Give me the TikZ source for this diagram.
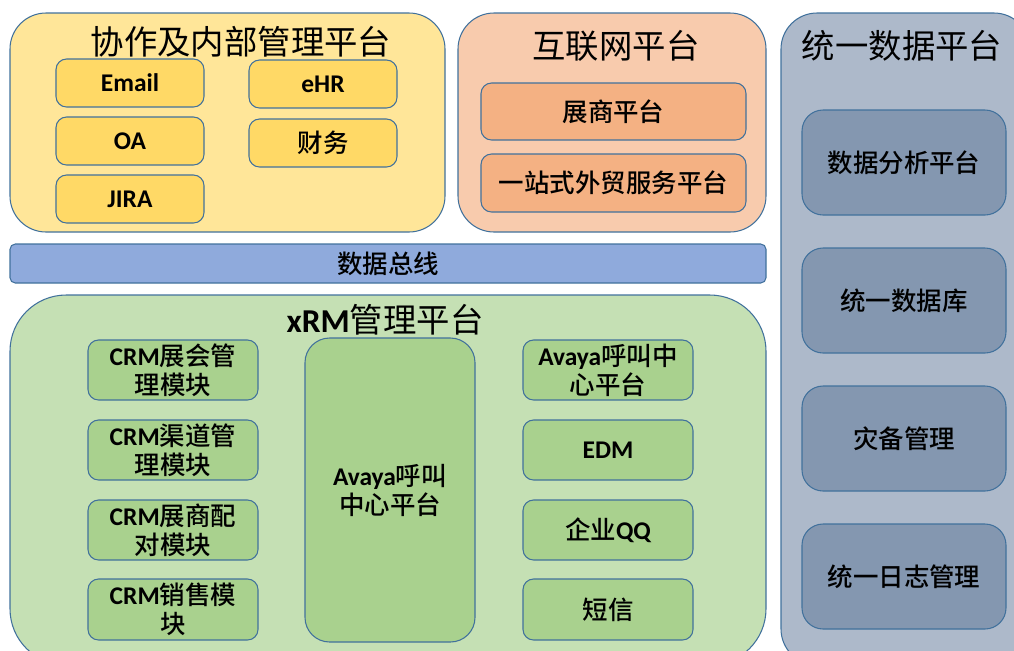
\documentclass[tikz,border=0pt]{standalone}
\usepackage{fontspec}
\setmainfont{Noto Sans CJK SC}[BoldFont={Noto Sans CJK SC Medium}]
\newfontfamily\lat{Carlito}
\definecolor{edge}{HTML}{41719C}
\definecolor{ylwout}{HTML}{FFE699}\definecolor{ylwin}{HTML}{FFD966}
\definecolor{orgout}{HTML}{F8CBAD}\definecolor{orgin}{HTML}{F4B183}
\definecolor{bluout}{HTML}{ADB9CA}\definecolor{bluin}{HTML}{8497B0}
\definecolor{grnout}{HTML}{C5E0B4}\definecolor{grnin}{HTML}{A9D18E}
\definecolor{bus}{HTML}{8FAADC}
\begin{document}
\begin{tikzpicture}[x=.02cm,y=-.02cm,line width=.6pt,
  outer/.style={draw=edge,rounded corners=36pt*.57},
  inner/.style={draw=edge,rounded corners=6pt},
  ttl/.style={font=\fontsize{19}{21}\selectfont},
  lbl/.style={font=\fontsize{14.5}{16.5}\selectfont\bfseries,align=center}]
\clip (0,0) rectangle (1014,650);
% upper platforms
\draw[outer,fill=ylwout] (10,13) rectangle (445,232) node[midway] (collab) {};
\node[ttl] (collabT) at (241,42) {协作及内部管理平台};
\draw[inner,fill=ylwin] (56,59) rectangle (204,107) node[midway,lbl] (email) {\lat Email};
\draw[inner,fill=ylwin] (249,60) rectangle (397,108) node[midway,lbl] (ehr) {\lat eHR};
\draw[inner,fill=ylwin] (56,117) rectangle (204,165) node[midway,lbl] (oa) {\lat OA};
\draw[inner,fill=ylwin] (249,119) rectangle (397,167) node[midway,lbl] (fin) {财务};
\draw[inner,fill=ylwin] (56,175) rectangle (204,223) node[midway,lbl] (jira) {\lat JIRA};
\draw[outer,fill=orgout] (458,13) rectangle (766,232) node[midway] (web) {};
\node[ttl] (webT) at (616,46) {互联网平台};
\draw[inner,fill=orgin] (481,83) rectangle (746,140) node[midway,lbl] (expo) {展商平台};
\draw[inner,fill=orgin] (481,154) rectangle (746,212) node[midway,lbl] (trade) {一站式外贸服务平台};
% data platform
\draw[outer,fill=bluout] (781,13) rectangle (1030,665) node[midway] (data) {};
\node[ttl] (dataT) at (902,46) {统一数据平台};
\draw[inner,fill=bluin,rounded corners=12pt] (802,110) rectangle (1006,215) node[midway,lbl] (ana) {数据分析平台};
\draw[inner,fill=bluin,rounded corners=12pt] (802,248) rectangle (1006,353) node[midway,lbl] (db) {统一数据库};
\draw[inner,fill=bluin,rounded corners=12pt] (802,386) rectangle (1006,491) node[midway,lbl] (dr) {灾备管理};
\draw[inner,fill=bluin,rounded corners=12pt] (802,524) rectangle (1006,629) node[midway,lbl] (log) {统一日志管理};
% bus
\draw[draw=edge,fill=bus,rounded corners=3pt] (10,244) rectangle (766,283) node[midway,lbl] (busN) {数据总线};
% xRM
\draw[outer,fill=grnout,rounded corners=32pt] (10,295) rectangle (766,665) node[midway] (xrm) {};
\node[ttl] (xrmT) at (385,320) {{\lat\bfseries xRM}管理平台};
\draw[inner,fill=grnin] (88,340) rectangle (258,400) node[midway,lbl] (crm1) {{\lat CRM}展会管\\理模块};
\draw[inner,fill=grnin] (88,420) rectangle (258,480) node[midway,lbl] (crm2) {{\lat CRM}渠道管\\理模块};
\draw[inner,fill=grnin] (88,500) rectangle (258,560) node[midway,lbl] (crm3) {{\lat CRM}展商配\\对模块};
\draw[inner,fill=grnin] (88,579) rectangle (258,640) node[midway,lbl] (crm4) {{\lat CRM}销售模\\块};
\draw[inner,fill=grnin,rounded corners=14pt] (305,338) rectangle (475,642) node[midway,lbl] (avayaL) {{\lat Avaya}呼叫\\中心平台};
\draw[inner,fill=grnin] (523,340) rectangle (693,400) node[midway,lbl] (avayaS) {{\lat Avaya}呼叫中\\心平台};
\draw[inner,fill=grnin] (523,420) rectangle (693,480) node[midway,lbl] (edm) {\lat EDM};
\draw[inner,fill=grnin] (523,500) rectangle (693,560) node[midway,lbl] (qq) {企业{\lat QQ}};
\draw[inner,fill=grnin] (523,579) rectangle (693,640) node[midway,lbl] (sms) {短信};
\end{tikzpicture}
\end{document}
